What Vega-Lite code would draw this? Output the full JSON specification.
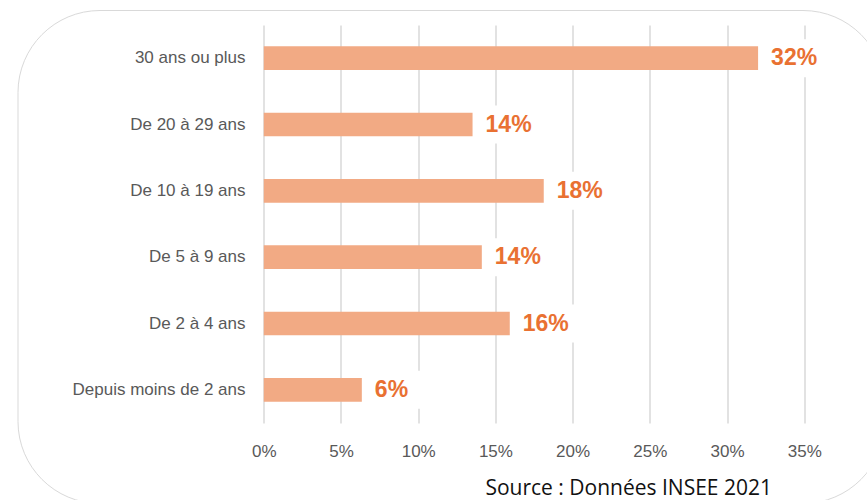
{
  "$schema": "https://vega.github.io/schema/vega-lite/v6.json",
  "width": 867,
  "height": 493,
  "autosize": {"type": "none"},
  "padding": {"left": 17.5, "top": 10, "right": -17.5, "bottom": -3},
  "background": "white",
  "config": {
    "view": {"stroke": "#d9d9d9", "strokeWidth": 1, "cornerRadius": 82, "fill": "white"},
    "axis": {
      "labelFont": "Liberation Sans",
      "labelFontSize": 17,
      "labelColor": "#595959",
      "domain": false,
      "ticks": false,
      "tickSize": 0
    }
  },
  "data": {
    "values": [
      {"anciennete": "30 ans ou plus", "part": 0.3201},
      {"anciennete": "De 20 à 29 ans", "part": 0.1352},
      {"anciennete": "De 10 à 19 ans", "part": 0.1813},
      {"anciennete": "De 5 à 9 ans", "part": 0.1412},
      {"anciennete": "De 2 à 4 ans", "part": 0.1593},
      {"anciennete": "Depuis moins de 2 ans", "part": 0.0635}
    ]
  },
  "encoding": {
    "y": {
      "field": "anciennete",
      "type": "nominal",
      "sort": null,
      "title": null,
      "scale": {"range": [15, 413], "paddingInner": 0.644, "paddingOuter": 0.322},
      "axis": {"offset": -246.5, "labelPadding": 19, "grid": false}
    }
  },
  "layer": [
    {
      "mark": {"type": "bar", "color": "#F2AA84"},
      "encoding": {
        "x": {
          "field": "part",
          "type": "quantitative",
          "scale": {"domain": [-0.15948, 0.40196], "nice": false, "zero": false},
          "axis": {
            "orient": "top",
            "values": [0, 0.05, 0.1, 0.15, 0.2, 0.25, 0.3, 0.35],
            "format": ".0%",
            "grid": true,
            "gridColor": "#d9d9d9",
            "gridWidth": 1.5,
            "offset": -414,
            "labelPadding": -27,
            "labelBaseline": "middle",
            "title": "Source : Données INSEE 2021",
            "titleFont": "Open Sans",
            "titleFontSize": 21,
            "titleFontWeight": "normal",
            "titleColor": "#111111",
            "titleX": 754,
            "titleY": 70,
            "titleAlign": "right",
            "titleBaseline": "alphabetic",
            "titleAnchor": null
          }
        },
        "x2": {"datum": 0}
      }
    },
    {
      "mark": {"type": "bar", "color": "white", "size": 38, "xOffset": 9, "x2Offset": 65},
      "encoding": {
        "x": {"field": "part", "type": "quantitative"},
        "x2": {"field": "part"}
      }
    },
    {
      "mark": {
        "type": "text",
        "align": "left",
        "baseline": "middle",
        "dx": 13,
        "font": "Liberation Sans",
        "fontSize": 23,
        "fontWeight": "bold",
        "color": "#E97132"
      },
      "encoding": {
        "x": {"field": "part", "type": "quantitative"},
        "text": {"field": "part", "type": "quantitative", "format": ".0%"}
      }
    }
  ]
}
